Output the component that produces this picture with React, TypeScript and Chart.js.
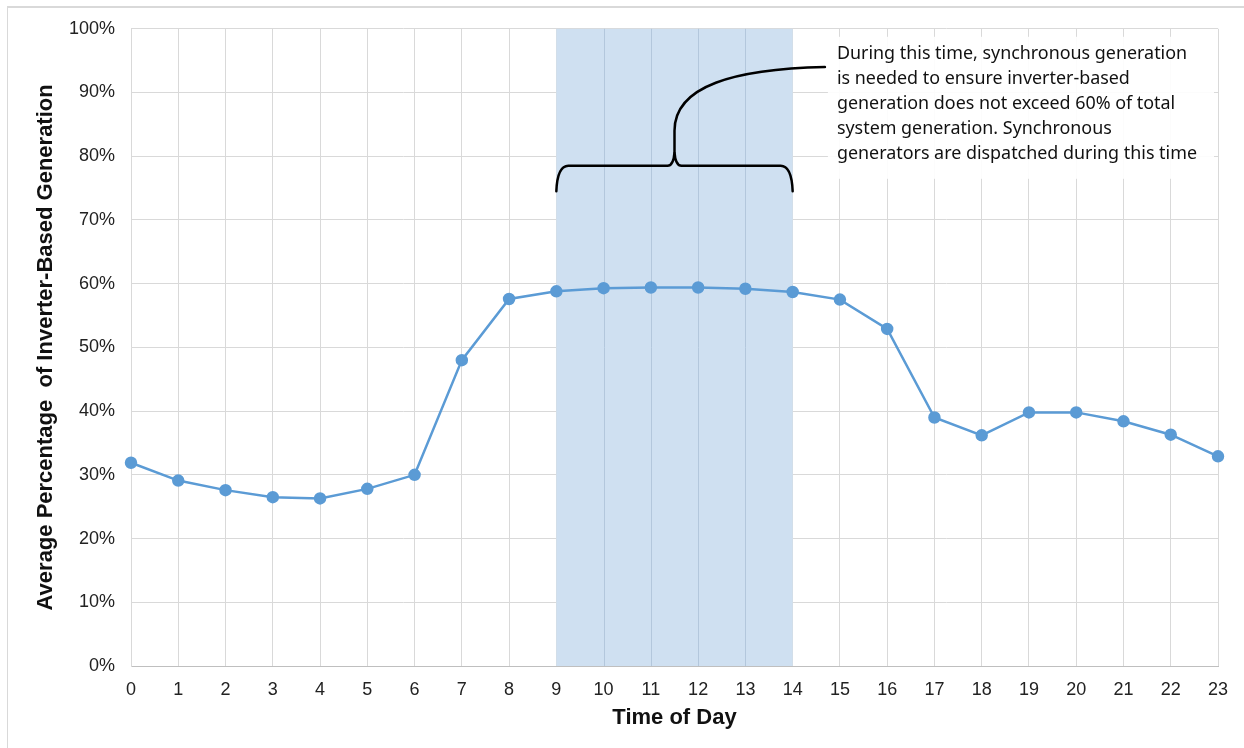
import React, { useEffect, useRef } from "react";
import { Chart, registerables } from "chart.js";

Chart.register(...registerables);

const hours: string[] = ["0","1","2","3","4","5","6","7","8","9","10","11","12","13","14","15","16","17","18","19","20","21","22","23"];
const inverterShare: number[] = [31.9, 29.1, 27.6, 26.5, 26.3, 27.8, 30.0, 48.0, 57.6, 58.8, 59.3, 59.4, 59.4, 59.2, 58.7, 57.5, 52.9, 39.0, 36.2, 39.8, 39.8, 38.4, 36.3, 32.9];
const yTicks: number[] = [0, 10, 20, 30, 40, 50, 60, 70, 80, 90, 100];
const shadeStart = 9;
const shadeEnd = 14;
const noteLines: string[] = [
  "During this time, synchronous generation",
  "is needed to ensure inverter-based",
  "generation does not exceed 60% of total",
  "system generation. Synchronous",
  "generators are dispatched during this time",
];

const annotPlugin = {
  id: "annot",
  beforeDatasetsDraw(chart: any) {
    const { ctx, chartArea, scales } = chart;
    const xs = scales.x;
    const x0 = xs.getPixelForValue(shadeStart);
    const x1 = xs.getPixelForValue(shadeEnd);
    ctx.save();
    ctx.fillStyle = "#cfe0f1";
    ctx.fillRect(x0, chartArea.top, x1 - x0, chartArea.bottom - chartArea.top);
    ctx.strokeStyle = "#b3c7dc";
    ctx.lineWidth = 1;
    for (let h = shadeStart + 1; h < shadeEnd; h++) {
      const px = Math.round(xs.getPixelForValue(h)) + 0.5;
      ctx.beginPath();
      ctx.moveTo(px, chartArea.top);
      ctx.lineTo(px, chartArea.bottom);
      ctx.stroke();
    }
    // note box (semi-opaque white)
    const bx = xs.getPixelForValue(15) - 12;
    ctx.fillStyle = "rgba(255,255,255,0.9)";
    ctx.fillRect(bx, chartArea.top + 8, chartArea.right - 4 - bx, 142);
    ctx.restore();
  },
  afterDraw(chart: any) {
    const { ctx, chartArea, scales } = chart;
    const xs = scales.x;
    const ys = scales.y;
    const xL = xs.getPixelForValue(shadeStart);
    const xR = xs.getPixelForValue(shadeEnd);
    const xM = (xL + xR) / 2;
    const yH = ys.getPixelForValue(78.5);
    const yEnd = ys.getPixelForValue(74.5);
    const yTip = ys.getPixelForValue(80.6);
    const yStem = ys.getPixelForValue(84);
    const endX = xs.getPixelForValue(15) - 15;
    const endY = ys.getPixelForValue(94);
    ctx.save();
    ctx.strokeStyle = "#000";
    ctx.lineWidth = 2.5;
    ctx.lineCap = "round";
    ctx.beginPath();
    ctx.moveTo(xL, yEnd);
    ctx.quadraticCurveTo(xL + 1, yH, xL + 12, yH);
    ctx.lineTo(xM - 7, yH);
    ctx.quadraticCurveTo(xM - 1, yH, xM, yTip);
    ctx.quadraticCurveTo(xM + 1, yH, xM + 7, yH);
    ctx.lineTo(xR - 12, yH);
    ctx.quadraticCurveTo(xR - 1, yH, xR, yEnd);
    ctx.stroke();
    ctx.beginPath();
    ctx.moveTo(xM, yTip);
    ctx.lineTo(xM, yStem);
    ctx.bezierCurveTo(xM, yStem - 45, xM + 60, endY + 2, endX, endY);
    ctx.stroke();
    // text
    ctx.fillStyle = "#111";
    ctx.font = "17.9px 'Noto Sans'";
    ctx.textAlign = "left";
    ctx.textBaseline = "alphabetic";
    const tx = xs.getPixelForValue(15) - 3;
    const ty0 = chartArea.top + 30;
    noteLines.forEach((ln, i) => ctx.fillText(ln, tx, ty0 + i * 25));
    ctx.restore();
  },
};

export default function App() {
  const ref = useRef<HTMLCanvasElement | null>(null);
  useEffect(() => {
    if (!ref.current) return;
    const chart = new Chart(ref.current, {
      type: "line",
      data: {
        labels: hours,
        datasets: [
          {
            label: "Inverter-based share",
            data: inverterShare,
            borderColor: "#5b9bd5",
            backgroundColor: "#5b9bd5",
            borderWidth: 2.5,
            pointRadius: 5,
            pointBackgroundColor: "#5b9bd5",
            pointBorderColor: "#5b9bd5",
            tension: 0,
          },
        ],
      },
      options: {
        animation: false,
        responsive: false,
        maintainAspectRatio: false,
        layout: { padding: { top: 0, right: 26, bottom: 0, left: 0 } },
        plugins: { legend: { display: false }, tooltip: { enabled: false } },
        scales: {
          x: {
            type: "category",
            offset: false,
            grid: { color: "#d9d9d9", drawTicks: false, lineWidth: 1 },
            border: { color: "#bfbfbf" },
            ticks: { color: "#222", font: { family: "'Liberation Sans', Arial", size: 18 }, padding: 13, maxRotation: 0, autoSkip: false },
            title: { display: true, text: "Time of Day", color: "#111", font: { family: "'Liberation Sans', Arial", size: 22, weight: "bold" }, padding: { top: 0, bottom: 17 } },
            afterFit(scale: any) { scale.height = 82; },
          },
          y: {
            min: 0,
            max: 100,
            afterBuildTicks(scale: any) { scale.ticks = yTicks.map((v) => ({ value: v })); },
            grid: { color: "#d9d9d9", drawTicks: false, lineWidth: 1 },
            border: { color: "#d9d9d9" },
            ticks: { color: "#222", font: { family: "'Liberation Sans', Arial", size: 18 }, padding: 16, callback: (v: any) => v + "%" },
            title: { display: true, text: "Average Percentage  of Inverter-Based Generation", color: "#111", font: { family: "'Liberation Sans', Arial", size: 22, weight: "bold" }, padding: { top: 25, bottom: 0 } },
            afterFit(scale: any) { scale.width = 123; },
          },
        },
      },
      plugins: [annotPlugin],
    });
    return () => chart.destroy();
  }, []);
  return (
    <div style={{ position: "absolute", left: 7, top: 6, width: 1237, height: 742, borderTop: "2px solid #d9d9d9", borderLeft: "1px solid #d9d9d9", background: "#fff" }}>
      <canvas ref={ref} width={1236} height={746} style={{ display: "block", position: "absolute", left: 0, top: -6 }} />
    </div>
  );
}
